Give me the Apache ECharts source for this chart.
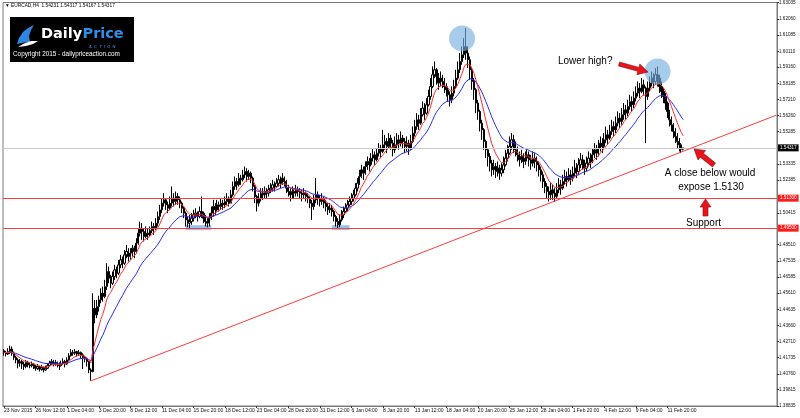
<!DOCTYPE html>
<html><head><meta charset="utf-8">
<script src="https://cdn.jsdelivr.net/npm/echarts@6/dist/echarts.min.js"></script>
<style>html,body{margin:0;padding:0;background:#fff}#c{width:800px;height:418px}</style>
</head><body><div id="c"></div>
<script>
const symbolTitle = "EURCAD,H4  1.54231 1.54317 1.54167 1.54317";
const firstOpen = 1.4215;
const lastOpen = 1.54231;
const closes = [
1.4205,1.4195,1.4210,1.4225,1.4200,1.4175,1.4160,1.4140,1.4150,1.4135,1.4120,1.4145,1.4130,1.4125,1.4135,1.4120,
1.4110,1.4120,1.4105,1.4115,1.4100,1.4110,1.4125,1.4140,1.4150,1.4135,1.4145,1.4130,1.4125,1.4140,1.4150,1.4135,
1.4160,1.4185,1.4205,1.4200,1.4210,1.4195,1.4205,1.4190,1.4175,1.4165,1.4150,1.4100,1.4090,1.4470,1.4430,1.4480,
1.4520,1.4560,1.4540,1.4600,1.4690,1.4650,1.4620,1.4660,1.4700,1.4680,1.4730,1.4760,1.4740,1.4790,1.4810,1.4780,
1.4800,1.4830,1.4810,1.4860,1.4920,1.4950,1.4930,1.4900,1.4920,1.4910,1.4935,1.4960,1.4950,1.4980,1.5020,1.5060,
1.5100,1.5120,1.5090,1.5070,1.5100,1.5130,1.5110,1.5140,1.5120,1.5100,1.5070,1.5040,1.5000,1.4980,1.4990,1.5010,
1.5030,1.5040,1.5020,1.5050,1.5040,1.5010,1.4990,1.4980,1.5010,1.5040,1.5080,1.5060,1.5090,1.5080,1.5100,1.5090,
1.5110,1.5130,1.5100,1.5150,1.5200,1.5230,1.5210,1.5250,1.5240,1.5270,1.5290,1.5260,1.5280,1.5250,1.5200,1.5140,
1.5100,1.5130,1.5160,1.5150,1.5170,1.5160,1.5180,1.5190,1.5210,1.5200,1.5220,1.5240,1.5220,1.5250,1.5230,1.5190,
1.5170,1.5150,1.5170,1.5160,1.5180,1.5170,1.5160,1.5150,1.5160,1.5140,1.5130,1.5100,1.5080,1.5120,1.5150,1.5130,
1.5110,1.5130,1.5100,1.5080,1.5060,1.5070,1.5050,1.5020,1.4990,1.4970,1.5000,1.5030,1.5050,1.5070,1.5090,1.5110,
1.5130,1.5150,1.5190,1.5220,1.5260,1.5300,1.5280,1.5320,1.5350,1.5330,1.5370,1.5390,1.5360,1.5400,1.5430,1.5410,
1.5450,1.5470,1.5440,1.5490,1.5460,1.5420,1.5450,1.5480,1.5460,1.5490,1.5470,1.5440,1.5460,1.5430,1.5470,1.5520,
1.5560,1.5600,1.5580,1.5630,1.5670,1.5640,1.5690,1.5740,1.5800,1.5870,1.5900,1.5860,1.5820,1.5850,1.5830,1.5800,
1.5780,1.5750,1.5720,1.5760,1.5800,1.5850,1.5900,1.5950,1.5990,1.6040,1.6000,1.5960,1.5900,1.5830,1.5780,1.5700,
1.5650,1.5580,1.5540,1.5470,1.5420,1.5380,1.5340,1.5300,1.5320,1.5290,1.5310,1.5280,1.5300,1.5330,1.5370,1.5400,
1.5440,1.5480,1.5450,1.5420,1.5390,1.5360,1.5380,1.5350,1.5370,1.5390,1.5360,1.5340,1.5370,1.5350,1.5330,1.5300,
1.5270,1.5230,1.5200,1.5170,1.5150,1.5180,1.5160,1.5140,1.5180,1.5210,1.5190,1.5230,1.5260,1.5240,1.5270,1.5250,
1.5280,1.5310,1.5290,1.5330,1.5360,1.5340,1.5310,1.5340,1.5370,1.5350,1.5390,1.5420,1.5400,1.5430,1.5460,1.5440,
1.5480,1.5510,1.5490,1.5530,1.5560,1.5540,1.5580,1.5610,1.5590,1.5630,1.5660,1.5640,1.5680,1.5710,1.5690,1.5730,
1.5760,1.5790,1.5770,1.5810,1.5790,1.5740,1.5790,1.5820,1.5850,1.5830,1.5870,1.5850,1.5800,1.5770,1.5740,1.5700,
1.5650,1.5600,1.5570,1.5530,1.5500,1.5470,1.5450,1.5423,1.54317];
const lows = [
1.4185,1.4180,1.4190,1.4195,1.4185,1.4160,1.4140,1.4110,1.4120,1.4105,1.4100,1.4110,1.4115,1.4110,1.4115,1.4105,
1.4095,1.4100,1.4090,1.4095,1.4085,1.4095,1.4105,1.4120,1.4130,1.4120,1.4125,1.4115,1.4100,1.4120,1.4130,1.4115,
1.4130,1.4155,1.4180,1.4185,1.4190,1.4180,1.4185,1.4170,1.4105,1.4145,1.4120,1.4080,1.4035,1.4085,1.4380,1.4410,
1.4450,1.4500,1.4510,1.4530,1.4580,1.4620,1.4590,1.4610,1.4640,1.4650,1.4670,1.4710,1.4710,1.4730,1.4770,1.4750,
1.4760,1.4780,1.4770,1.4800,1.4850,1.4900,1.4880,1.4870,1.4890,1.4880,1.4900,1.4920,1.4910,1.4940,1.4960,1.5000,
1.5040,1.5080,1.5060,1.5040,1.5060,1.5080,1.5080,1.5090,1.5090,1.5070,1.5040,1.5010,1.4960,1.4955,1.4950,1.4970,
1.4990,1.5010,1.4990,1.5010,1.5010,1.4980,1.4960,1.4955,1.4960,1.5000,1.5020,1.5030,1.5050,1.5050,1.5060,1.5060,
1.5070,1.5090,1.5080,1.5100,1.5140,1.5180,1.5180,1.5200,1.5210,1.5230,1.5250,1.5230,1.5240,1.5220,1.5170,1.5100,
1.5050,1.5080,1.5110,1.5120,1.5130,1.5130,1.5140,1.5160,1.5170,1.5170,1.5190,1.5200,1.5190,1.5210,1.5200,1.5160,
1.5140,1.5110,1.5130,1.5130,1.5140,1.5140,1.5130,1.5110,1.5130,1.5110,1.5100,1.5070,1.5000,1.5060,1.5100,1.5090,
1.5080,1.5090,1.5070,1.5050,1.5030,1.5040,1.5020,1.4990,1.4960,1.4950,1.4955,1.4990,1.5010,1.5040,1.5050,1.5080,
1.5090,1.5110,1.5140,1.5170,1.5210,1.5250,1.5240,1.5270,1.5300,1.5290,1.5320,1.5350,1.5330,1.5350,1.5380,1.5370,
1.5400,1.5420,1.5400,1.5430,1.5420,1.5380,1.5400,1.5430,1.5420,1.5440,1.5430,1.5400,1.5410,1.5390,1.5420,1.5460,
1.5500,1.5540,1.5540,1.5570,1.5620,1.5600,1.5630,1.5680,1.5720,1.5790,1.5850,1.5810,1.5780,1.5800,1.5790,1.5760,
1.5740,1.5710,1.5680,1.5700,1.5740,1.5790,1.5840,1.5880,1.5930,1.5970,1.5960,1.5910,1.5840,1.5780,1.5720,1.5640,
1.5600,1.5530,1.5480,1.5420,1.5370,1.5320,1.5290,1.5260,1.5270,1.5250,1.5260,1.5240,1.5260,1.5280,1.5320,1.5350,
1.5390,1.5420,1.5400,1.5380,1.5350,1.5320,1.5340,1.5310,1.5330,1.5350,1.5320,1.5300,1.5320,1.5310,1.5290,1.5260,
1.5230,1.5190,1.5160,1.5130,1.5110,1.5120,1.5120,1.5110,1.5130,1.5160,1.5150,1.5180,1.5210,1.5200,1.5230,1.5210,
1.5230,1.5260,1.5250,1.5270,1.5310,1.5300,1.5270,1.5290,1.5320,1.5310,1.5340,1.5370,1.5360,1.5380,1.5410,1.5400,
1.5430,1.5460,1.5450,1.5480,1.5510,1.5500,1.5520,1.5560,1.5550,1.5570,1.5600,1.5600,1.5620,1.5660,1.5650,1.5670,
1.5710,1.5740,1.5730,1.5760,1.5750,1.5460,1.5720,1.5770,1.5800,1.5790,1.5810,1.5800,1.5760,1.5730,1.5700,1.5660,
1.5610,1.5560,1.5530,1.5490,1.5460,1.5430,1.5410,1.5400,1.54167];
const highs = [
1.4225,1.4215,1.4230,1.4245,1.4240,1.4210,1.4185,1.4170,1.4165,1.4160,1.4150,1.4160,1.4155,1.4145,1.4150,1.4140,
1.4130,1.4135,1.4125,1.4130,1.4120,1.4125,1.4140,1.4155,1.4165,1.4160,1.4160,1.4150,1.4145,1.4155,1.4170,1.4160,
1.4175,1.4200,1.4225,1.4220,1.4225,1.4215,1.4220,1.4210,1.4200,1.4185,1.4170,1.4155,1.4110,1.4560,1.4520,1.4520,
1.4545,1.4590,1.4600,1.4640,1.4740,1.4720,1.4670,1.4690,1.4730,1.4720,1.4760,1.4790,1.4780,1.4820,1.4850,1.4830,
1.4830,1.4850,1.4845,1.4890,1.4950,1.4990,1.4980,1.4950,1.4960,1.4945,1.4960,1.4990,1.4980,1.5010,1.5050,1.5090,
1.5130,1.5160,1.5130,1.5110,1.5140,1.5200,1.5160,1.5170,1.5160,1.5140,1.5110,1.5080,1.5050,1.5020,1.5030,1.5040,
1.5060,1.5070,1.5050,1.5080,1.5140,1.5050,1.5030,1.5010,1.5040,1.5080,1.5120,1.5100,1.5120,1.5110,1.5130,1.5120,
1.5140,1.5160,1.5140,1.5180,1.5230,1.5260,1.5250,1.5280,1.5270,1.5300,1.5320,1.5310,1.5300,1.5290,1.5260,1.5210,
1.5150,1.5160,1.5190,1.5190,1.5200,1.5190,1.5210,1.5220,1.5240,1.5230,1.5250,1.5270,1.5260,1.5280,1.5260,1.5240,
1.5210,1.5190,1.5200,1.5190,1.5210,1.5200,1.5190,1.5180,1.5190,1.5170,1.5160,1.5140,1.5120,1.5150,1.5250,1.5170,
1.5150,1.5160,1.5140,1.5120,1.5100,1.5100,1.5090,1.5060,1.5030,1.5010,1.5030,1.5060,1.5080,1.5100,1.5120,1.5140,
1.5160,1.5180,1.5220,1.5250,1.5300,1.5330,1.5320,1.5350,1.5380,1.5370,1.5400,1.5430,1.5410,1.5430,1.5460,1.5450,
1.5540,1.5510,1.5490,1.5520,1.5510,1.5480,1.5500,1.5520,1.5510,1.5530,1.5510,1.5490,1.5500,1.5480,1.5510,1.5560,
1.5600,1.5640,1.5630,1.5670,1.5710,1.5700,1.5730,1.5780,1.5850,1.5920,1.5950,1.5910,1.5880,1.5890,1.5870,1.5850,
1.5820,1.5800,1.5770,1.5800,1.5840,1.5900,1.5950,1.6000,1.6040,1.6090,1.6150,1.6040,1.5980,1.5910,1.5850,1.5790,
1.5720,1.5660,1.5600,1.5550,1.5480,1.5430,1.5400,1.5360,1.5360,1.5340,1.5350,1.5330,1.5340,1.5380,1.5420,1.5450,
1.5500,1.5520,1.5510,1.5470,1.5440,1.5410,1.5420,1.5400,1.5410,1.5430,1.5410,1.5390,1.5410,1.5400,1.5380,1.5350,
1.5320,1.5290,1.5250,1.5220,1.5200,1.5220,1.5210,1.5190,1.5220,1.5250,1.5240,1.5270,1.5300,1.5290,1.5310,1.5300,
1.5320,1.5360,1.5340,1.5370,1.5400,1.5390,1.5360,1.5380,1.5410,1.5400,1.5430,1.5460,1.5450,1.5480,1.5500,1.5490,
1.5520,1.5560,1.5540,1.5570,1.5600,1.5590,1.5620,1.5650,1.5640,1.5670,1.5700,1.5690,1.5720,1.5750,1.5740,1.5770,
1.5800,1.5830,1.5820,1.5850,1.5840,1.5800,1.5830,1.5860,1.5890,1.5880,1.5910,1.5920,1.5870,1.5830,1.5790,1.5760,
1.5710,1.5660,1.5620,1.5580,1.5550,1.5520,1.5490,1.5460,1.54317];
const xLabels = ["23 Nov 2015","26 Nov 12:00","1 Dec 04:00","3 Dec 20:00","8 Dec 12:00","11 Dec 04:00","15 Dec 20:00","18 Dec 12:00","23 Dec 04:00","28 Dec 20:00","31 Dec 12:00","6 Jan 04:00","8 Jan 20:00","13 Jan 12:00","18 Jan 04:00","20 Jan 20:00","25 Jan 12:00","28 Jan 04:00","1 Feb 20:00","4 Feb 12:00","9 Feb 04:00","11 Feb 20:00"];
const yTicks = [1.38835,1.39815,1.40760,1.41735,1.42710,1.43660,1.44635,1.45610,1.46585,1.47535,1.48510,1.50415,1.52385,1.53335,1.55285,1.56260,1.57210,1.58185,1.59160,1.60110,1.61085,1.62060,1.63035];
const yMin = 1.38835, yMax = 1.63035;
const labelEvery = 16;
const slotCount = 392;
const currentPrice = 1.54317;
const levels = [1.51300, 1.49500];
const trendline = [[44, 1.4034], [391, 1.5627]];
const peaks = [[232, 1.6088], [331, 1.5890]];
const supportBoxes = [[[92, 1.4968], [105, 1.4938]], [[166, 1.4968], [175, 1.4938]]];
const fastPeriod = 8, slowPeriod = 21;

const cats = closes.map((_, i) => String(i));
while (cats.length < slotCount) cats.push(String(cats.length));
const ohlc = closes.map((c, i) => {
  const o = i === 0 ? firstOpen : (i === closes.length - 1 ? lastOpen : closes[i - 1]);
  return [o, c, Math.min(lows[i], o, c), Math.max(highs[i], o, c)];
});
function ema(p) { const k = 2 / (p + 1); let e = closes[0]; return closes.map((c, i) => { e = i === 0 ? c : c * k + e * (1 - k); return +e.toFixed(5); }); }
const fast = ema(fastPeriod), slow = ema(slowPeriod);
const showLab = (i) => i % labelEvery === 0 && i / labelEvery < xLabels.length;

const chart = echarts.init(document.getElementById('c'));
const lvlLabel = (bg) => ({ show: true, position: 'end', distance: 1, formatter: (p) => Number(p.value).toFixed(5), color: '#fff', backgroundColor: bg, fontSize: 4.6, fontFamily: 'Liberation Sans', padding: [1, 2, 1, 2] });
function arrow(x1, y1, x2, y2, sw, hw, hl) {
  const dx = x2 - x1, dy = y2 - y1, L = Math.hypot(dx, dy), ux = dx / L, uy = dy / L, nx = -uy, ny = ux;
  const bx = x2 - ux * hl, by = y2 - uy * hl;
  return [[x1 + nx * sw / 2, y1 + ny * sw / 2], [bx + nx * sw / 2, by + ny * sw / 2], [bx + nx * hw / 2, by + ny * hw / 2], [x2, y2],
          [bx - nx * hw / 2, by - ny * hw / 2], [bx - nx * sw / 2, by - ny * sw / 2], [x1 - nx * sw / 2, y1 - ny * sw / 2]];
}
const arrowStyle = { fill: '#e8141c', stroke: '#8a0a0a', lineWidth: 0.6 };
const txt = (x, y, t, align) => ({ type: 'text', x, y, style: { text: t, fill: '#000', font: '10px "Liberation Sans"', textAlign: align || 'left', textVerticalAlign: 'top' }, z: 100 });

chart.setOption({
  animation: false,
  backgroundColor: '#fff',
  grid: { left: 3, right: 23, top: 2, bottom: 12, show: true, borderColor: '#7a7a7a', borderWidth: 1 },
  xAxis: {
    type: 'category', data: cats, boundaryGap: true,
    axisLine: { lineStyle: { color: '#7a7a7a' } },
    axisTick: { show: true, interval: (i) => showLab(i), length: 2, alignWithLabel: true, lineStyle: { color: '#333' } },
    axisLabel: { interval: (i) => showLab(i), formatter: (v, i) => xLabels[Math.round(i / labelEvery)], align: 'left', fontSize: 5, fontFamily: 'Liberation Sans', color: '#111', margin: 2 },
    splitLine: { show: false }
  },
  yAxis: {
    type: 'value', position: 'right', min: yMin, max: yMax, scale: true,
    axisLine: { show: true, lineStyle: { color: '#7a7a7a' } },
    axisTick: { show: true, length: 2, customValues: yTicks, lineStyle: { color: '#333' } },
    axisLabel: { customValues: yTicks, formatter: (v) => v.toFixed(5), fontSize: 4.6, fontFamily: 'Liberation Sans', color: '#111', margin: 2 },
    splitLine: { show: false }
  },
  series: [
    {
      type: 'candlestick', data: ohlc, barWidth: 1.7,
      itemStyle: { color: '#ffffff', color0: '#000000', borderColor: '#000000', borderColor0: '#000000', borderWidth: 1 },
      markArea: {
        silent: true, itemStyle: { color: 'rgba(120,175,225,0.75)' },
        data: supportBoxes.map(b => [{ coord: b[0] }, { coord: b[1] }])
      },
      markPoint: {
        silent: true, symbol: 'circle', symbolSize: 26, label: { show: false },
        itemStyle: { color: 'rgba(120,175,225,0.65)' },
        data: peaks.map(p => ({ coord: p }))
      }
    },
    { type: 'line', data: slow, symbol: 'none', lineStyle: { color: '#2a2aff', width: 1 }, z: 3 },
    { type: 'line', data: fast, symbol: 'none', lineStyle: { color: '#ff2a2a', width: 1 }, z: 4 },
    {
      type: 'line', data: trendline, symbol: 'none', lineStyle: { color: '#ff3b3b', width: 1 }, z: 5,
      markLine: {
        silent: true, symbol: ['none', 'none'], animation: false, precision: 5,
        data: [
          { yAxis: currentPrice, lineStyle: { color: '#c8c8c8', width: 1, type: 'solid' }, label: lvlLabel('#000') },
          { yAxis: levels[0], lineStyle: { color: '#ff3b3b', width: 1, type: 'solid' }, label: lvlLabel('#ff1a1a') },
          { yAxis: levels[1], lineStyle: { color: '#ff3b3b', width: 1, type: 'solid' }, label: lvlLabel('#ff1a1a') }
        ]
      }
    }
  ],
  graphic: [
    { type: 'text', x: 5, y: 3, style: { text: '\u25BC ' + symbolTitle, fill: '#000', font: '4.8px "Liberation Sans"' }, z: 100 },
    { type: 'rect', shape: { x: 10, y: 17, width: 124, height: 45 }, style: { fill: '#000' }, z: 100 },
    { type: 'polygon', shape: { points: [[17,44],[19,38],[23,32],[28,28],[34,25],[31,30],[29,36],[30,42],[24,42.5]] }, style: { fill: '#2f86e0' }, z: 101 },
    { type: 'polygon', shape: { points: [[18,47],[24,43.5],[31,41],[38,41],[33,44],[26,46]] }, style: { fill: '#ffffff' }, z: 101 },
    { type: 'text', x: 41, y: 27, style: { text: 'Daily', fill: '#fff', font: 'bold 14.5px "DejaVu Sans"' }, z: 101 },
    { type: 'text', x: 82.5, y: 27, style: { text: 'Price', fill: '#2f8fe8', font: 'bold 14.5px "DejaVu Sans"' }, z: 101 },
    { type: 'text', x: 89, y: 44.5, style: { text: 'A  C  T  I  O  N', fill: '#3a6fb8', font: 'bold 4px "Liberation Sans"' }, z: 101 },
    { type: 'text', x: 13, y: 51, style: { text: 'Copyright 2015 - dailypriceaction.com', fill: '#fff', font: '6.4px "Liberation Sans"' }, z: 101 },
    txt(558, 56, 'Lower high?'),
    txt(710, 168, 'A close below would', 'center'),
    txt(711, 182, 'expose 1.5130', 'center'),
    txt(686, 218, 'Support'),
    { type: 'polygon', shape: { points: arrow(619, 64, 648, 72, 4, 11, 10) }, style: arrowStyle, z: 100 },
    { type: 'polygon', shape: { points: arrow(714, 165, 694, 149, 5, 12, 10) }, style: arrowStyle, z: 100 },
    { type: 'polygon', shape: { points: arrow(705.5, 216, 705.5, 199, 5, 11, 8) }, style: arrowStyle, z: 100 }
  ]
});
</script></body></html>
